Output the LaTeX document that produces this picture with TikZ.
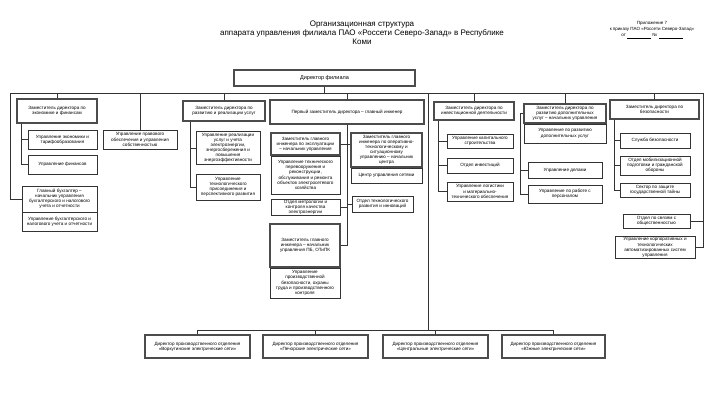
\documentclass[tikz,border=0pt]{standalone}
\usepackage{fontspec}
\setmainfont{Liberation Sans}
\usetikzlibrary{positioning}

\begin{document}
\begin{tikzpicture}[x=1pt, y=-1pt,
   every node/.style={font=\fontsize{4.6}{5.1}\selectfont},
   box/.style={draw=black!80, line width=0.5pt, align=center, inner sep=0.4pt},
   chief/.style={box, line width=1.3pt, draw=black!70},
   sz/.style 2 args={minimum width=#1pt, minimum height=#2pt},
   link/.style={draw=black!80, line width=0.5pt}]
   \useasboundingbox (0,0) rectangle (710,404);

   % Title and appendix note
   \node[font=\fontsize{8}{9}\selectfont, align=center] (title) at (362,33)
      {Организационная структура\\аппарата управления филиала ПАО «Россети Северо-Запад» в Республике\\Коми};
   \node[font=\fontsize{4.5}{6.2}\selectfont, align=center] (appx) at (652,30)
      {Приложение 7\\к приказу ПАО «Россети Северо-Запад»\\от \underline{\hspace{24pt}} № \underline{\hspace{24pt}}};

   % Director
   \node[chief, sz={181}{16}, font=\fontsize{5.5}{6.5}\selectfont] (dir) at (324.5,78) {Директор филиала};
   \coordinate (busW) at (10,93);
   \coordinate (busE) at (703,93);
   \draw[link] (busW) -- (busE);
   \draw[link] (dir.south) -- (dir.south |- busW);

   % Economics and finance
   \node[chief, sz={80}{24}] (econ) at (57,111) {Заместитель директора по\\экономике и финансам};
   \node[box, sz={69}{19}] (tarif) at (62.5,139.5) {Управление экономики и\\тарифообразования};
   \node[box, sz={69}{19}] (fin) at (62.5,164.5) {Управление финансов};
   \node[box, sz={75}{26}] (buh) at (59.5,199) {Главный бухгалтер –\\начальник управления\\бухгалтерского и налогового\\учета и отчетности};
   \node[box, sz={75}{19}, below=0pt of buh] (buhupr) {Управление бухгалтерского и\\налогового учета и отчетности};
   \draw[link] (econ.north) -- (econ.north |- busW);
   \draw[link] ([xshift=5pt]econ.south west) |- (tarif.west);
   \draw[link] ([xshift=5pt]econ.south west) |- (fin.west);
   \draw[link] (busW) |- (buh.west);

   % Legal
   \node[box, sz={74}{19}] (pravo) at (140,139.5) {Управление правового\\обеспечения и управления\\собственностью};
   \draw[link] (pravo.north) -- (pravo.north |- busW);

   % Development and sales
   \node[chief, sz={82}{20}] (razv) at (224,111) {Заместитель директора по\\развитию и реализации услуг};
   \node[box, sz={64}{33}] (realiz) at (228,148) {Управление реализации\\услуг и учета\\электроэнергии,\\энергосбережения и\\повышения\\энергоэффективности};
   \node[box, sz={64}{26}] (tp) at (228,187) {Управление\\технологического\\присоединения и\\перспективного развития};
   \draw[link] (razv.north) -- (razv.north |- busW);
   \draw[link] ([xshift=8pt]razv.south west) |- (realiz.west);
   \draw[link] ([xshift=8pt]razv.south west) |- (tp.west);

   % Chief engineer
   \node[chief, sz={154}{24}] (first) at (347,112) {Первый заместитель директора – главный инженер};
   \node[chief, sz={69}{22}] (ekspl) at (305.5,144) {Заместитель главного\\инженера по эксплуатации\\– начальник управления};
   \node[box, sz={69}{38}, below=0pt of ekspl] (tpir) {Управление технического\\перевооружения и\\реконструкции,\\обслуживания и ремонта\\объектов электросетевого\\хозяйства};
   \node[box, sz={69}{16}] (metr) at (305.5,207.5) {Отдел метрологии и\\контроля качества\\электроэнергии};
   \node[chief, sz={70}{43}] (pb) at (305,245.5) {Заместитель главного\\инженера – начальник\\управления ПБ, ОТиПК};
   \node[box, sz={70}{30}, below=0pt of pb] (pbupr) {Управление\\производственной\\безопасности, охраны\\труда и производственного\\контроля};
   \node[chief, sz={71}{34}] (oper) at (386.5,150) {Заместитель главного\\инженера по оперативно-\\технологическому и\\ситуационному\\управлению – начальник\\центра};
   \node[box, sz={71}{15}, below=0pt of oper] (cus) {Центр управления сетями};
   \node[box, sz={61}{16}] (innov) at (382.5,204) {Отдел технологического\\развития и инноваций};
   \draw[link] (first.north) -- (first.north |- busW);
   \draw[link] (first.south) -- (first.south |- pb.east) -- (pb.east);
   \draw[link] (ekspl.east) -- (ekspl.east -| oper.west);
   \draw[link] (metr.east) -- (metr.east -| first.south);
   \draw[link] (innov.west) -- (innov.west -| first.south);

   % Production branches
   \coordinate (busS) at (428,330);
   \node[chief, sz={105}{23}] (vork) at (197.5,346.5) {Директор производственного отделения\\«Воркутинские электрические сети»};
   \node[chief, sz={105}{23}] (pech) at (315.5,346.5) {Директор производственного отделения\\«Печорские электрические сети»};
   \node[chief, sz={105}{23}] (centr) at (435.5,346.5) {Директор производственного отделения\\«Центральные электрические сети»};
   \node[chief, sz={103}{23}] (yuzh) at (553.5,346.5) {Директор производственного отделения\\«Южные электрические сети»};
   \draw[link] (busS |- busW) -- (busS);
   \draw[link] (vork.north) -- (vork.north |- busS) -- (yuzh.north |- busS) -- (yuzh.north);
   \draw[link] (pech.north) -- (pech.north |- busS);
   \draw[link] (centr.north) -- (centr.north |- busS);

   % Investment
   \node[chief, sz={80}{18}] (invest) at (474,111) {Заместитель директора по\\инвестиционной деятельности};
   \node[box, sz={66}{14}] (kap) at (480,141) {Управление капитального\\строительства};
   \node[box, sz={66}{15}] (otdinv) at (480,165.5) {Отдел инвестиций};
   \node[box, sz={66}{19}] (logist) at (480,191.5) {Управление логистики\\и материально-\\технического обеспечения};
   \draw[link] (invest.north) -- (invest.north |- busW);
   \draw[link] ([xshift=5pt]invest.south west) |- (kap.west);
   \draw[link] ([xshift=5pt]invest.south west) |- (otdinv.west);
   \draw[link] ([xshift=5pt]invest.south west) |- (logist.west);

   % Additional services
   \node[chief, sz={82}{19}] (dop) at (565,113.5) {Заместитель директора по\\развитию дополнительных\\услуг – начальник управления};
   \node[box, sz={82}{19}, below=0pt of dop] (dopupr) {Управление по развитию\\дополнительных услуг};
   \node[box, sz={74}{16}] (dela) at (565,170) {Управление делами};
   \node[box, sz={74}{18}] (pers) at (565,194) {Управление по работе с\\персоналом};
   \coordinate (dopS) at ([xshift=-3pt]dop.west);
   \draw[link] (dop.north) -- (dop.north |- busW);
   \draw[link] (dop.west) -- (dopS) |- (pers.west);
   \draw[link] (dela.west) -- (dela.west -| dopS);

   % Security
   \node[chief, sz={89}{19}] (bez) at (654.5,109.5) {Заместитель директора по\\безопасности};
   \node[box, sz={70}{15}] (sb) at (655,140.5) {Служба безопасности};
   \node[box, sz={70}{19}] (mob) at (655,165.5) {Отдел мобилизационной\\подготовки и гражданской\\обороны};
   \node[box, sz={70}{14}] (gt) at (655,190) {Сектор по защите\\государственной тайны};
   \node[box, sz={67}{14}] (pr) at (656.5,221) {Отдел по связям с\\общественностью};
   \node[box, sz={80}{22}] (asu) at (655,247.5) {Управление корпоративных и\\технологических\\автоматизированных систем\\управления};
   \draw[link] (bez.north) -- (bez.north |- busW);
   \draw[link] ([xshift=5pt]bez.south west) |- (sb.west);
   \draw[link] ([xshift=5pt]bez.south west) |- (mob.west);
   \draw[link] ([xshift=5pt]bez.south west) |- (gt.west);
   \draw[link] (busE) |- (asu.east);
   \draw[link] (pr.east) -- (pr.east -| busE);
\end{tikzpicture}
\end{document}
